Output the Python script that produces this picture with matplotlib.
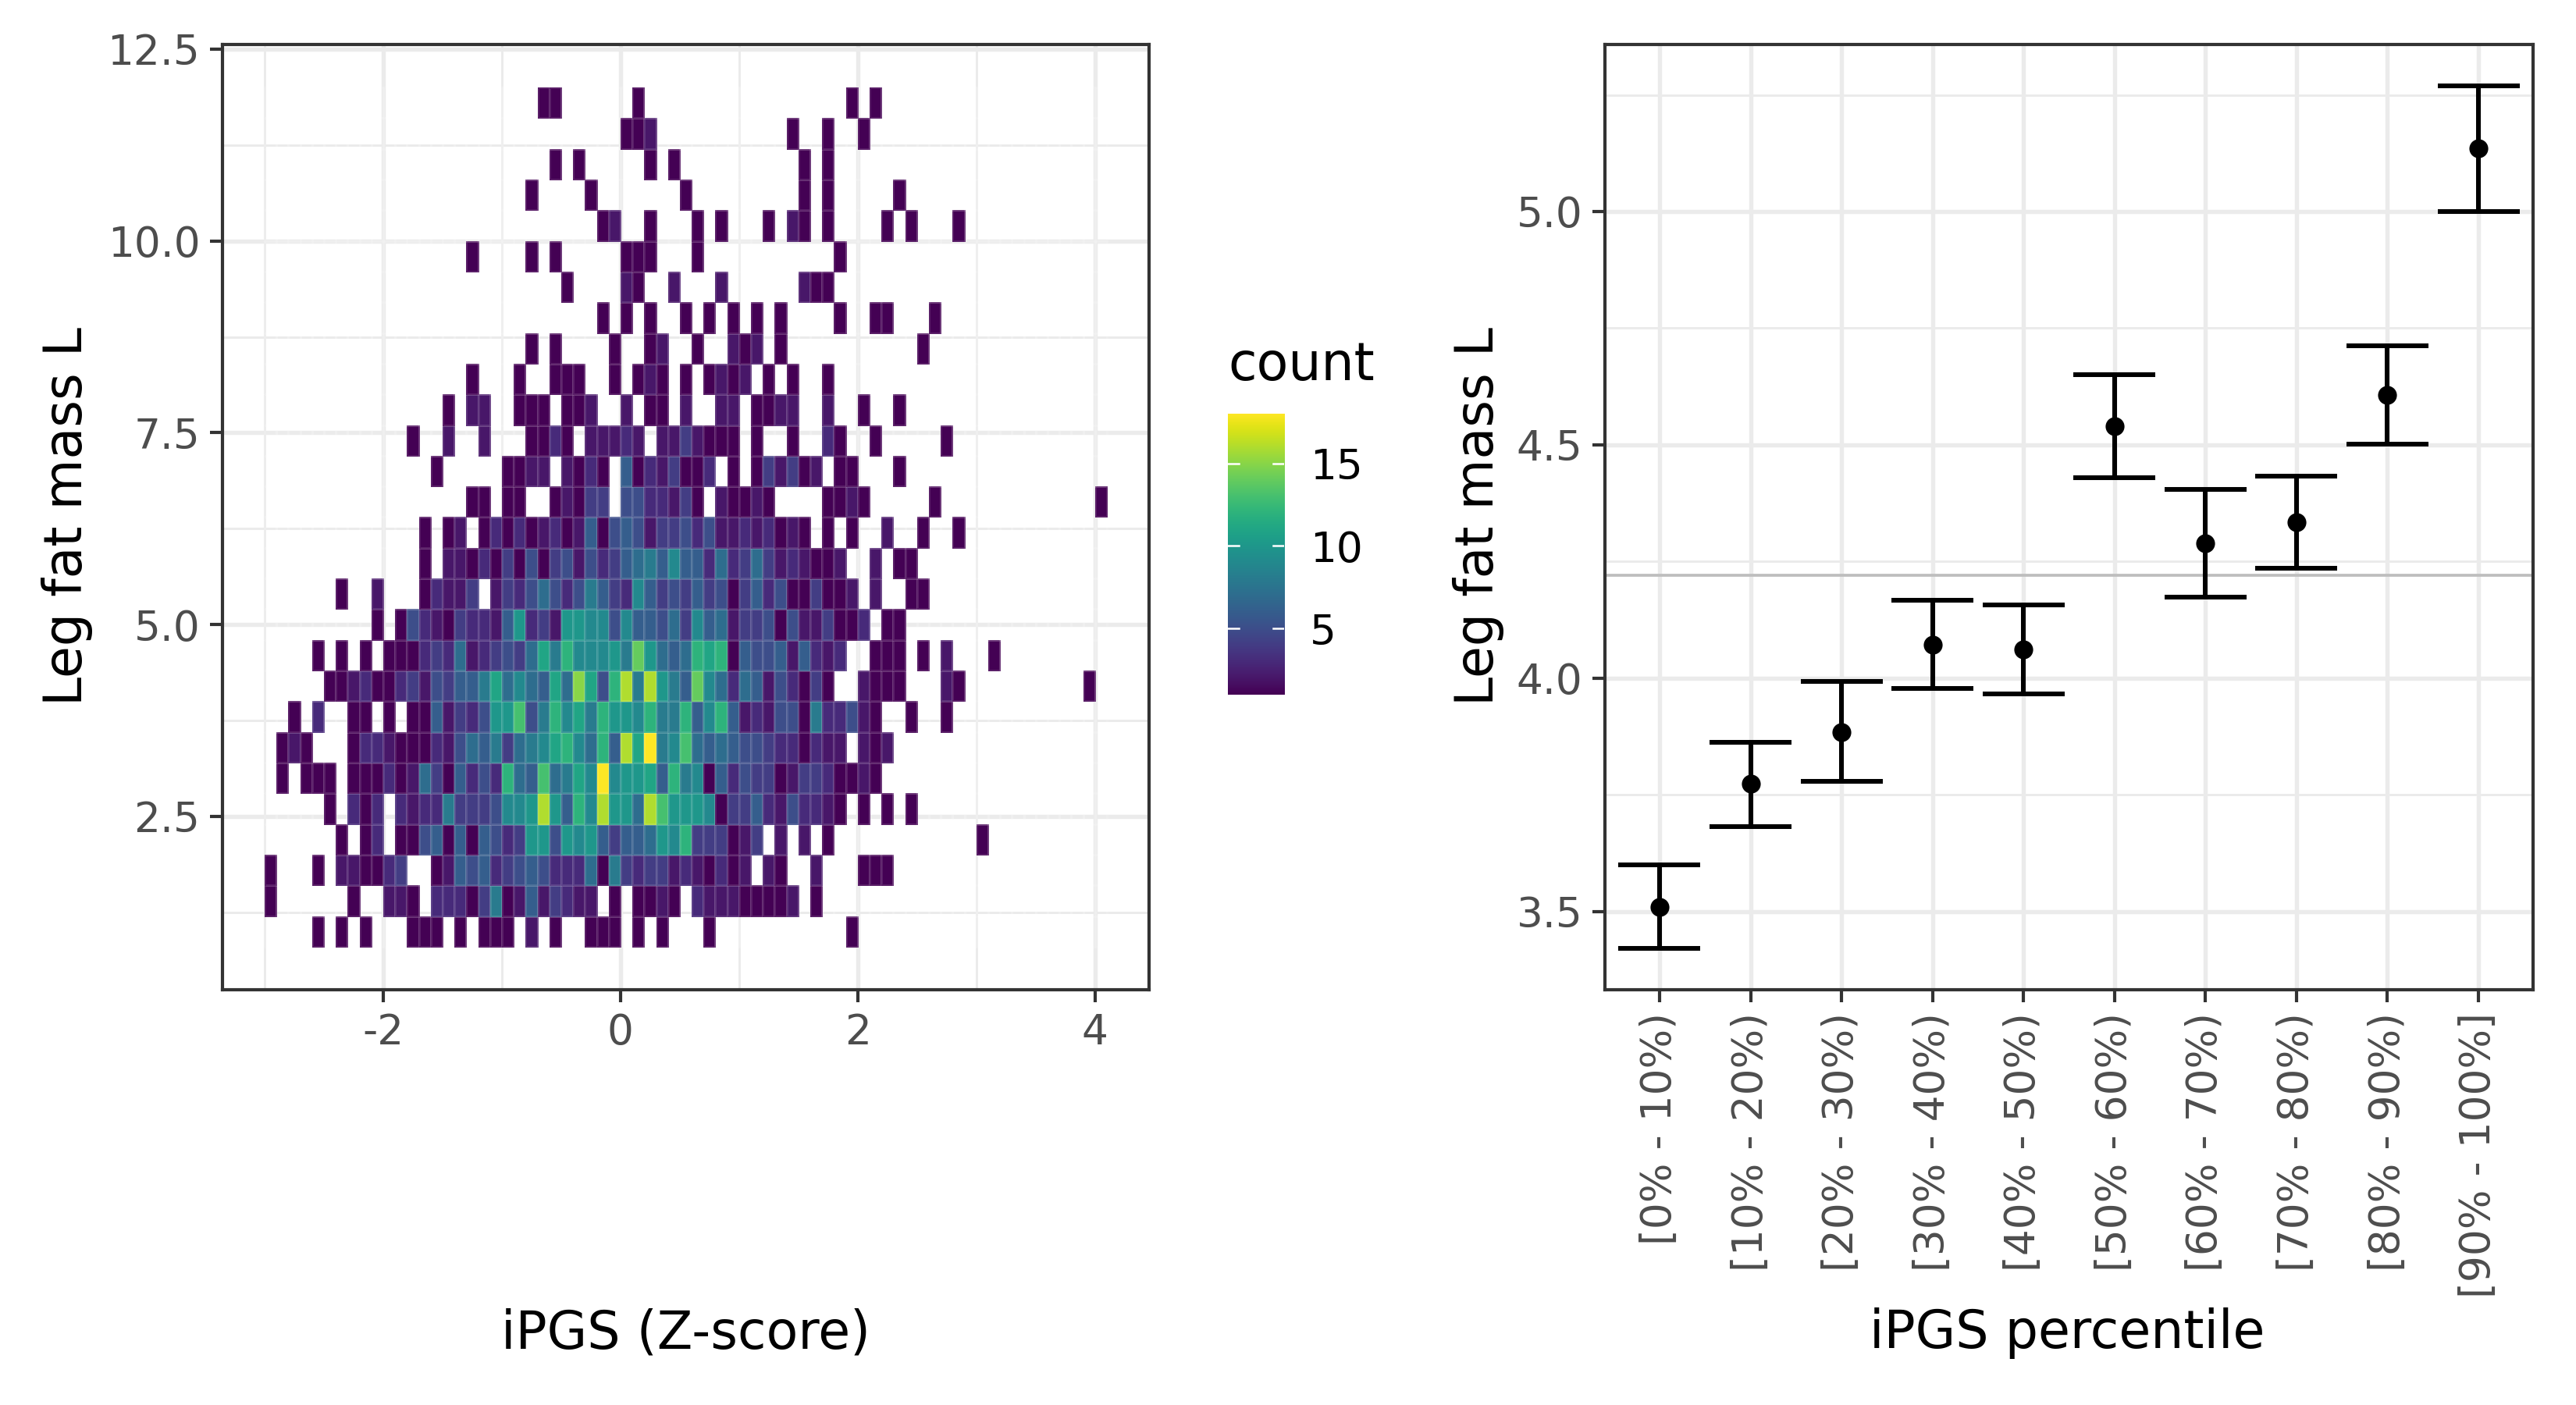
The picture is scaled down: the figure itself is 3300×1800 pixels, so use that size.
import numpy as np
import matplotlib
matplotlib.use("Agg")
import matplotlib.pyplot as plt
from matplotlib.colors import Normalize

# counts per 2d bin, {column: count}, row_00 is the bottom row
row_00 = {4:1, 6:1, 8:1, 12:1, 13:1, 14:1, 16:1, 18:1, 19:1, 20:1, 22:2, 24:1, 27:1, 28:1, 29:1, 31:1, 33:1, 37:1, 49:1}
row_01 = {0:1, 7:1, 10:2, 11:2, 12:1, 14:3, 15:3, 16:3, 17:1, 18:4, 19:8, 20:1, 21:2, 22:6, 23:2, 24:4, 25:3, 26:2, 27:2, 29:1,
          31:1, 32:1, 33:2, 34:1, 36:3, 37:2, 38:2, 39:2, 40:1, 41:1, 42:1, 43:1, 44:2, 46:1}
row_02 = {0:1, 4:1, 6:2, 7:2, 8:1, 9:1, 10:3, 11:4, 14:1, 15:2, 16:6, 17:5, 18:6, 19:3, 20:4, 21:5, 22:6, 23:5, 24:3, 25:3, 26:3, 27:7, 28:1, 29:8,
          30:4, 31:3, 32:4, 33:4, 34:2, 35:3, 36:2, 37:1, 38:3, 39:1, 40:2, 42:2, 43:1, 46:2, 50:1, 51:1, 52:1}
row_03 = {6:1, 8:1, 9:3, 11:1, 12:1, 13:5, 14:6, 15:1, 16:6, 17:1, 18:6, 19:5, 20:3, 21:4, 22:10, 23:10, 24:5, 25:10, 26:9, 27:10, 28:6, 29:4,
          30:6, 31:6, 32:7, 33:10, 34:9, 35:12, 36:4, 37:4, 38:4, 39:1, 40:2, 41:4, 43:2, 45:2, 47:1, 60:1}
row_04 = {5:1, 7:3, 8:1, 9:3, 11:3, 12:2, 13:3, 14:3, 15:8, 16:4, 17:4, 18:4, 19:5, 20:9, 21:9, 22:10, 23:16, 24:10, 25:6, 26:12, 27:9, 28:16, 29:10,
          30:10, 31:7, 32:16, 33:13, 34:10, 35:10, 36:10, 37:9, 38:1, 39:4, 40:4, 41:6, 42:3, 43:2, 44:5, 45:3, 46:3, 47:2, 48:1, 50:1, 52:1, 54:1}
row_05 = {1:1, 3:1, 4:1, 5:1, 7:1, 8:1, 9:1, 10:3, 11:1, 12:2, 13:7, 14:4, 15:1, 16:6, 17:3, 18:5, 19:3, 20:12, 21:7, 22:6, 23:13, 24:7, 25:8, 26:11, 27:9, 28:18, 29:9,
          30:10, 31:10, 32:11, 33:6, 34:12, 35:8, 36:9, 37:1, 38:6, 39:3, 40:5, 41:4, 42:4, 43:1, 44:2, 45:4, 46:4, 47:3, 48:1, 49:1, 50:2, 51:1}
row_06 = {1:1, 2:2, 3:1, 7:1, 8:3, 9:3, 10:2, 11:1, 12:1, 13:1, 14:3, 15:2, 16:5, 17:7, 18:6, 19:8, 20:4, 21:7, 22:8, 23:9, 24:11, 25:12, 26:9, 27:7, 28:12, 29:6,
          30:16, 31:11, 32:18, 33:8, 34:9, 35:13, 36:7, 37:6, 38:7, 39:6, 40:5, 41:5, 42:4, 43:3, 44:3, 45:1, 46:3, 47:2, 48:2, 50:2, 51:1, 52:2}
row_07 = {2:1, 4:3, 7:1, 8:1, 10:1, 12:1, 13:1, 14:6, 15:2, 16:4, 17:3, 18:5, 19:10, 20:10, 21:13, 22:5, 23:8, 24:12, 25:9, 26:11, 27:8, 28:12, 29:10,
          30:10, 31:9, 32:12, 33:8, 34:8, 35:12, 36:6, 37:9, 38:12, 39:6, 40:2, 41:3, 42:2, 43:5, 44:5, 45:1, 46:8, 47:3, 48:3, 49:5, 50:2, 51:1, 54:1, 57:1}
row_08 = {5:1, 6:1, 7:2, 8:3, 9:1, 10:1, 11:3, 12:4, 13:2, 14:5, 15:4, 16:6, 17:6, 18:8, 19:11, 20:7, 21:9, 22:7, 23:6, 24:11, 25:7, 26:15, 27:11, 28:5, 29:12,
          30:16, 31:8, 32:16, 33:10, 34:8, 35:6, 36:14, 37:9, 38:7, 39:3, 40:7, 41:6, 42:2, 43:5, 44:3, 45:1, 46:4, 47:1, 50:2, 51:1, 52:1, 53:1, 57:2, 58:1, 69:1}
row_09 = {4:1, 6:1, 8:1, 10:1, 11:1, 12:1, 13:3, 14:4, 15:3, 16:7, 17:2, 18:3, 19:4, 20:5, 21:4, 22:7, 23:11, 24:8, 25:12, 26:9, 27:9, 28:9, 29:10,
          30:8, 31:14, 32:10, 33:7, 34:6, 35:7, 36:12, 37:11, 38:12, 39:1, 40:6, 41:5, 42:5, 43:6, 44:2, 45:6, 46:3, 47:2, 48:3, 51:1, 52:1, 53:1, 55:1, 57:2, 61:1}
row_10 = {9:1, 11:1, 12:5, 13:3, 14:2, 15:1, 16:4, 17:3, 18:3, 19:2, 20:6, 21:10, 22:3, 23:4, 24:2, 25:10, 26:10, 27:9, 28:9, 29:5,
          30:9, 31:6, 32:6, 33:5, 34:7, 35:4, 36:9, 37:6, 38:7, 39:2, 40:4, 41:4, 42:5, 43:1, 44:5, 45:2, 46:2, 47:4, 48:1, 49:1, 50:3, 52:1, 53:1}
row_11 = {6:1, 9:2, 13:1, 14:3, 15:2, 16:2, 17:4, 19:2, 20:4, 21:3, 22:5, 23:7, 24:5, 25:3, 26:5, 27:8, 28:6, 29:4,
          30:3, 31:9, 32:6, 33:4, 34:5, 35:4, 36:6, 37:4, 38:5, 39:1, 40:4, 41:6, 42:3, 43:5, 44:1, 45:1, 46:4, 47:1, 48:1, 49:2, 51:2, 54:1, 55:1}
row_12 = {13:1, 15:2, 16:2, 17:1, 18:3, 19:1, 20:4, 21:1, 22:5, 23:1, 24:4, 25:5, 26:2, 27:5, 28:3, 29:4,
          30:6, 31:7, 32:8, 33:6, 34:9, 35:6, 36:6, 37:3, 38:7, 39:3, 40:4, 41:7, 42:4, 43:2, 44:3, 45:2, 46:1, 47:1, 48:2, 51:2, 53:1, 54:1}
row_13 = {13:1, 15:1, 16:2, 18:1, 19:3, 20:1, 21:3, 22:1, 23:2, 24:3, 25:1, 26:2, 27:6, 28:1, 29:5,
          30:6, 31:5, 32:2, 33:4, 34:4, 35:5, 36:3, 37:5, 38:2, 39:2, 40:3, 41:2, 42:3, 43:1, 44:2, 45:1, 47:1, 49:1, 52:2, 55:1, 58:1}
row_14 = {17:1, 18:1, 20:1, 21:1, 24:1, 25:2, 26:1, 27:4, 28:4, 30:5, 31:5, 32:3, 33:3, 34:2, 35:4, 36:1, 38:2, 39:1, 40:1, 41:2, 42:1, 47:1, 48:1, 49:2, 50:1, 56:1, 70:1}
row_15 = {14:1, 20:1, 21:1, 22:2, 23:2, 25:2, 26:1, 27:3, 28:1, 30:6, 31:1, 32:3, 33:2, 34:4, 35:1, 36:1, 37:3, 39:1, 41:1, 42:4, 43:2, 44:4, 45:1, 46:2, 48:1, 49:1, 53:1}
row_16 = {12:1, 15:2, 18:2, 22:1, 23:1, 24:3, 25:1, 27:2, 28:2, 29:2, 30:3, 31:2, 33:2, 34:2, 35:4, 36:2, 37:1, 38:1, 39:1, 41:1, 44:1, 47:3, 48:1, 51:1, 57:1}
row_17 = {15:1, 17:2, 18:2, 21:1, 22:1, 23:1, 25:1, 26:1, 27:2, 30:2, 32:1, 33:1, 35:2, 38:2, 39:2, 41:1, 42:1, 43:2, 44:2, 47:2, 50:1, 53:1}
row_18 = {17:1, 21:1, 24:1, 25:1, 26:1, 29:1, 31:1, 32:2, 33:1, 35:1, 37:1, 38:2, 39:1, 40:2, 42:1, 44:1, 47:1}
row_19 = {22:1, 24:1, 29:1, 32:1, 33:2, 36:1, 39:2, 40:1, 41:2, 43:1, 55:1}
row_20 = {28:1, 30:1, 32:1, 35:1, 37:1, 39:1, 41:1, 43:1, 48:1, 51:1, 52:1, 56:1}
row_21 = {25:1, 30:2, 31:1, 34:2, 38:2, 45:2, 46:1, 47:1}
row_22 = {17:1, 22:1, 24:1, 30:1, 31:1, 32:1, 36:1, 48:1}
row_23 = {28:1, 29:2, 32:1, 36:1, 38:1, 42:1, 44:2, 45:1, 47:1, 52:1, 54:1, 58:1}
row_24 = {22:1, 27:1, 35:1, 45:1, 47:1, 53:1}
row_25 = {24:1, 26:1, 32:1, 34:1, 45:1, 47:1}
row_26 = {30:1, 31:1, 32:2, 44:1, 47:1, 50:1}
row_27 = {23:1, 24:1, 31:1, 49:1, 51:1}

percentile_labels = ["[0% - 10%)", "[10% - 20%)", "[20% - 30%)", "[30% - 40%)", "[40% - 50%)",
                     "[50% - 60%)", "[60% - 70%)", "[70% - 80%)", "[80% - 90%)", "[90% - 100%]"]
mean_fat = [3.510, 3.773, 3.884, 4.071, 4.061, 4.540, 4.289, 4.334, 4.606, 5.135]
upper_fat = [3.600, 3.863, 3.992, 4.167, 4.156, 4.651, 4.405, 4.433, 4.712, 5.269]
lower_fat = [3.421, 3.682, 3.778, 3.978, 3.966, 4.429, 4.174, 4.236, 4.501, 5.000]
overall_mean = 4.221

GRID = "#EBEBEB"
TICK = "#4D4D4D"
BORDER = "#333333"
W, H = 3300.0, 1800.0


def panel(fig, x0, x1, y0, y1):
    ax = fig.add_axes([x0 / W, 1 - y1 / H, (x1 - x0) / W, (y1 - y0) / H])
    ax.set_axisbelow(True)
    ax.grid(True, which="major", color=GRID, lw=1.3)
    ax.grid(True, which="minor", color=GRID, lw=0.7)
    ax.tick_params(which="major", length=3.9, width=1.0, color=BORDER, labelcolor=TICK, labelsize=12.8, pad=3)
    ax.tick_params(which="minor", length=0)
    for s in ax.spines.values():
        s.set_color(BORDER)
        s.set_linewidth(1.0)
    return ax


fig = plt.figure(figsize=(11, 6), dpi=300)

# left: binned counts
rows = [row_00, row_01, row_02, row_03, row_04, row_05, row_06, row_07, row_08, row_09,
        row_10, row_11, row_12, row_13, row_14, row_15, row_16, row_17, row_18, row_19,
        row_20, row_21, row_22, row_23, row_24, row_25, row_26, row_27]
counts = np.full((28, 71), np.nan)
for i, r in enumerate(rows):
    for col, n in r.items():
        counts[i, col] = n
x_edges = -3 + 0.1 * np.arange(72)
y_edges = 0.8 + 0.4 * np.arange(29)

ax = panel(fig, 285, 1472, 57, 1268)
norm = Normalize(1, 18)
mesh = ax.pcolormesh(x_edges, y_edges, np.ma.masked_invalid(counts), cmap="viridis", norm=norm,
                     edgecolors=(1, 1, 1, 0.12), linewidth=0.25)
ax.set_xlim(-3.355, 4.455)
ax.set_ylim(0.24, 12.56)
ax.set_xticks([-2, 0, 2, 4])
ax.set_xticklabels(["-2", "0", "2", "4"])
ax.set_xticks([-3, -1, 1, 3], minor=True)
ax.set_yticks([2.5, 5.0, 7.5, 10.0, 12.5])
ax.set_yticks([1.25, 3.75, 6.25, 8.75, 11.25], minor=True)
fig.text(878 / W, 1 - 1708 / H, "iPGS (Z-score)", fontsize=16, ha="center", va="center")
fig.text(86 / W, 1 - 662 / H, "Leg fat mass L", fontsize=16, rotation=90, ha="center", va="center")

# colour bar
cax = fig.add_axes([1573 / W, 1 - 890 / H, 72 / W, 360 / H])
grad = np.linspace(1, 18, 256).reshape(-1, 1)
cax.imshow(grad, origin="lower", aspect="auto", cmap="viridis", norm=norm, extent=[0, 1, 1, 18])
for s in cax.spines.values():
    s.set_visible(False)
cax.set_xticks([])
cax.yaxis.tick_right()
cax.set_yticks([5, 10, 15])
cax.tick_params(axis="y", length=0, labelsize=12.8, pad=8, labelcolor="black")
for v in [5, 10, 15]:
    cax.plot([0, 0.2], [v, v], color="white", lw=0.6)
    cax.plot([0.8, 1], [v, v], color="white", lw=0.6)
cax.set_xlim(0, 1)
cax.set_ylim(1, 18)
fig.text(1573 / W, 1 - 468 / H, "count", fontsize=16, ha="left", va="center")

# right: group means with error bars
bx = panel(fig, 2056, 3245, 57, 1268)
xs = np.arange(1, 11)
bx.axhline(overall_mean, color="#BEBEBE", lw=0.9, zorder=2)
bx.vlines(xs, lower_fat, upper_fat, color="black", lw=1.45, zorder=3)
bx.hlines(upper_fat, xs - 0.45, xs + 0.45, color="black", lw=1.45, zorder=3)
bx.hlines(lower_fat, xs - 0.45, xs + 0.45, color="black", lw=1.45, zorder=3)
bx.plot(xs, mean_fat, "o", color="black", ms=4.8, zorder=4)
bx.set_xlim(0.4, 10.6)
bx.set_ylim(3.332, 5.358)
bx.set_xticks(xs)
bx.set_xticklabels(percentile_labels, rotation=90, ha="center", va="top")
bx.set_yticks([3.5, 4.0, 4.5, 5.0])
bx.set_yticks([3.75, 4.25, 4.75, 5.25], minor=True)
fig.text(2648 / W, 1 - 1708 / H, "iPGS percentile", fontsize=16, ha="center", va="center")
fig.text(1894 / W, 1 - 662 / H, "Leg fat mass L", fontsize=16, rotation=90, ha="center", va="center")

fig.savefig("out.png", dpi=300)
